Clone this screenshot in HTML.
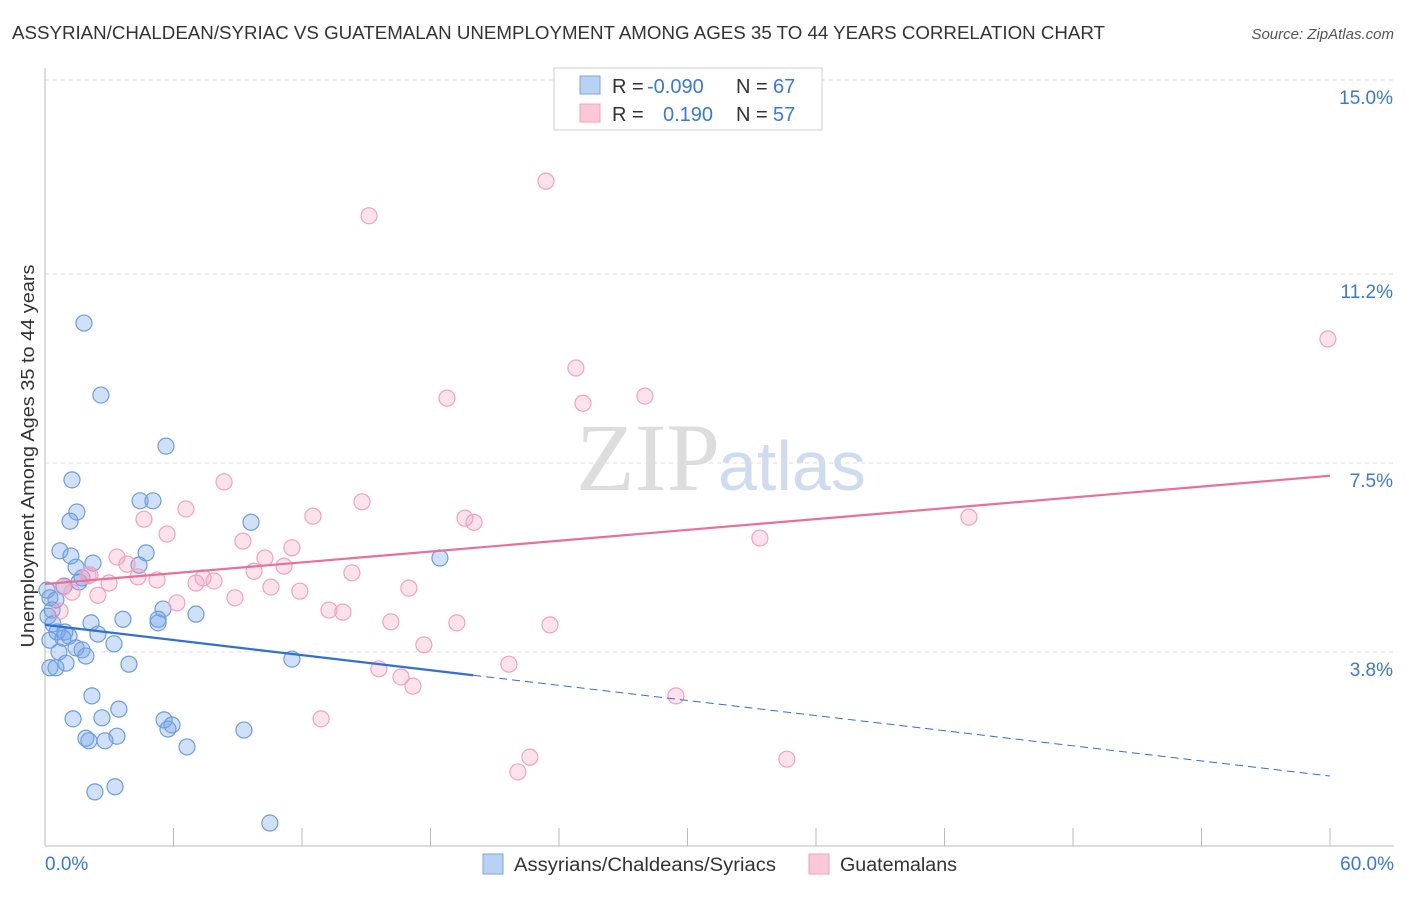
<!DOCTYPE html>
<html><head><meta charset="utf-8">
<style>
body{margin:0;background:#fff;font-family:"Liberation Sans",sans-serif;}
svg text{font-family:"Liberation Sans",sans-serif;}
</style></head>
<body>
<svg id="chart" width="1406" height="892" xmlns="http://www.w3.org/2000/svg">
<text x="12" y="39" font-size="18" fill="#333" textLength="1093" lengthAdjust="spacingAndGlyphs">ASSYRIAN/CHALDEAN/SYRIAC VS GUATEMALAN UNEMPLOYMENT AMONG AGES 35 TO 44 YEARS CORRELATION CHART</text>
<text x="1394" y="39" font-size="15" fill="#555" font-style="italic" text-anchor="end">Source: ZipAtlas.com</text>
<text x="720" y="490" font-size="96" fill="#ddd" text-anchor="end" style="font-family:'Liberation Serif',serif">ZIP</text>
<text x="718" y="490" font-size="70" fill="#cfdcf0">atlas</text>
<g id="grid"></g>
<g id="axes"></g>
<g id="marks"></g>
<text transform="translate(34,456) rotate(-90)" font-size="18" fill="#333" text-anchor="middle" textLength="383" lengthAdjust="spacingAndGlyphs">Unemployment Among Ages 35 to 44 years</text>
<g>
<rect x="554" y="68" width="268" height="62" fill="#fff" stroke="#ccc"/>
<rect x="580" y="76" width="20" height="18" fill="#b9d2f3" stroke="#7aa6e0"/>
<rect x="580" y="104" width="20" height="18" fill="#fbc8d8" stroke="#f0a0bc"/>
<text x="612" y="93" font-size="20" fill="#333">R = <tspan x="647" fill="#3a78d8">-0.090</tspan></text>
<text x="736" y="93" font-size="20" fill="#333">N = <tspan x="773" fill="#3a78d8">67</tspan></text>
<text x="612" y="121" font-size="20" fill="#333">R = <tspan x="663" fill="#3a78d8">0.190</tspan></text>
<text x="736" y="121" font-size="20" fill="#333">N = <tspan x="773" fill="#3a78d8">57</tspan></text>
</g>
<g>
<rect x="483" y="854" width="20" height="20" fill="#b9d2f3" stroke="#7aa6e0"/>
<text x="514" y="871" font-size="19" fill="#333" textLength="262" lengthAdjust="spacingAndGlyphs">Assyrians/Chaldeans/Syriacs</text>
<rect x="809" y="854" width="20" height="20" fill="#fbc8d8" stroke="#f0a0bc"/>
<text x="840" y="871" font-size="19" fill="#333" textLength="117" lengthAdjust="spacingAndGlyphs">Guatemalans</text>
</g>
</svg>
<script>
const blueX=[1.82,2.61,5.65,1.26,1.49,1.17,4.44,5.04,9.62,0.70,1.21,4.72,2.24,1.45,4.39,18.44,1.73,0.89,1.59,0.09,0.23,0.51,0.33,0.14,3.64,2.15,5.51,7.05,5.28,5.28,0.37,0.56,0.93,1.12,0.84,2.47,0.23,3.22,1.45,0.65,1.73,1.91,0.98,3.92,0.23,0.51,11.53,2.19,3.45,1.31,2.66,5.56,5.93,5.74,9.29,1.91,3.36,2.80,2.05,6.63,3.27,2.33,10.50];
const blueY=[10.24,8.83,7.83,7.17,6.54,6.36,6.76,6.76,6.34,5.78,5.68,5.74,5.54,5.46,5.50,5.64,5.25,5.09,5.17,5.01,4.86,4.82,4.62,4.50,4.44,4.37,4.64,4.54,4.37,4.44,4.35,4.19,4.19,4.11,4.07,4.15,4.03,3.96,3.88,3.80,3.84,3.72,3.58,3.56,3.49,3.49,3.66,2.94,2.68,2.49,2.51,2.47,2.37,2.29,2.27,2.11,2.15,2.06,2.06,1.94,1.16,1.06,0.45];
const pinkX=[23.39,15.13,59.90,24.79,18.77,28.01,25.12,8.36,14.80,6.58,4.62,12.51,19.61,20.03,43.14,5.70,9.24,33.38,11.53,3.36,10.27,3.83,9.76,11.16,14.33,2.10,0.84,4.34,5.23,7.38,7.89,7.05,2.99,2.01,1.26,2.47,10.55,11.90,16.99,6.16,8.87,0.70,13.26,13.91,16.15,19.23,23.58,17.69,21.66,15.59,16.62,17.18,29.46,12.89,22.64,22.08,34.64];
const pinkY=[13.02,12.34,9.93,9.36,8.77,8.81,8.67,7.13,6.74,6.60,6.40,6.46,6.42,6.34,6.44,6.11,5.97,6.03,5.84,5.66,5.64,5.52,5.38,5.48,5.35,5.31,5.07,5.27,5.21,5.25,5.19,5.15,5.15,5.29,4.97,4.91,5.07,4.99,5.05,4.76,4.86,4.60,4.62,4.58,4.39,4.37,4.33,3.94,3.56,3.47,3.31,3.13,2.94,2.49,1.74,1.45,1.70];
const blueTrend=[4.33,1.37];
const blueSolidEnd=20;
const pinkTrend=[5.13,7.25];
const yTicks=[3.8,7.5,11.2,15.0];
const yTickLabels=["3.8%","7.5%","11.2%","15.0%"];
const xTicks=[0,6,12,18,24,30,36,42,48,54,60];

const X0=45,X1=1330,Y0=846,Y1=80;
const sx=v=>X0+(X1-X0)*v/60;
const sy=v=>Y0-(Y0-Y1)*v/15;
const NS="http://www.w3.org/2000/svg";
function mk(tag,attrs,parent){const e=document.createElementNS(NS,tag);for(const k in attrs)e.setAttribute(k,attrs[k]);parent.appendChild(e);return e;}
const grid=document.getElementById('grid'),axes=document.getElementById('axes'),marks=document.getElementById('marks');
yTicks.forEach((t,i)=>{
  const g=mk('line',{x1:X0,x2:1394,y1:sy(t),y2:sy(t),stroke:'#ddd','stroke-dasharray':'4,4'},grid);
  
  
  const tx=mk('text',{x:1393,y:sy(t)+24,'font-size':19,fill:'#3a78d8','text-anchor':'end'},axes);
  tx.textContent=yTickLabels[i];
  
  
});
const ax=mk('line',{x1:X0,x2:X0,y1:68,y2:Y0,stroke:'#bbb'},axes);


const bx=mk('line',{x1:X0,x2:1394,y1:Y0,y2:Y0,stroke:'#bbb'},axes);


xTicks.forEach(t=>{
  const l=mk('line',{x1:sx(t),x2:sx(t),y1:828,y2:Y0,stroke:'#bbb'},axes);
  
  
});
const xl0=mk('text',{x:45,y:870,'font-size':19,fill:'#3a78d8'},axes);xl0.textContent=xTicks[0].toFixed(1)+'%';


const xl1=mk('text',{x:1394,y:870,'font-size':19,fill:'#3a78d8','text-anchor':'end'},axes);xl1.textContent=xTicks[xTicks.length-1].toFixed(1)+'%';



blueX.forEach((x,i)=>{
  const c=mk('circle',{cx:sx(x),cy:sy(blueY[i]),r:8,fill:'rgba(120,165,230,0.35)',stroke:'#6c9de0','stroke-width':1.2},marks);
  
  
});
pinkX.forEach((x,i)=>{
  const c=mk('circle',{cx:sx(x),cy:sy(pinkY[i]),r:8,fill:'rgba(245,160,190,0.3)',stroke:'#f0a2c0','stroke-width':1.2},marks);
  
  
});
const bAt=x=>blueTrend[0]+(blueTrend[1]-blueTrend[0])*x/60;
const pAt=x=>pinkTrend[0]+(pinkTrend[1]-pinkTrend[0])*x/60;
const b1=mk('line',{x1:sx(0),y1:sy(bAt(0)),x2:sx(blueSolidEnd),y2:sy(bAt(blueSolidEnd)),stroke:'#2f6fd6','stroke-width':2.2},marks);


const b2=mk('line',{x1:sx(blueSolidEnd),y1:sy(bAt(blueSolidEnd)),x2:sx(60),y2:sy(bAt(60)),stroke:'#2f6fd6','stroke-width':1,'stroke-dasharray':'8,5'},marks);


const p1=mk('line',{x1:sx(0),y1:sy(pAt(0)),x2:sx(60),y2:sy(pAt(60)),stroke:'#e8709a','stroke-width':2.2},marks);


</script>
</body></html>
